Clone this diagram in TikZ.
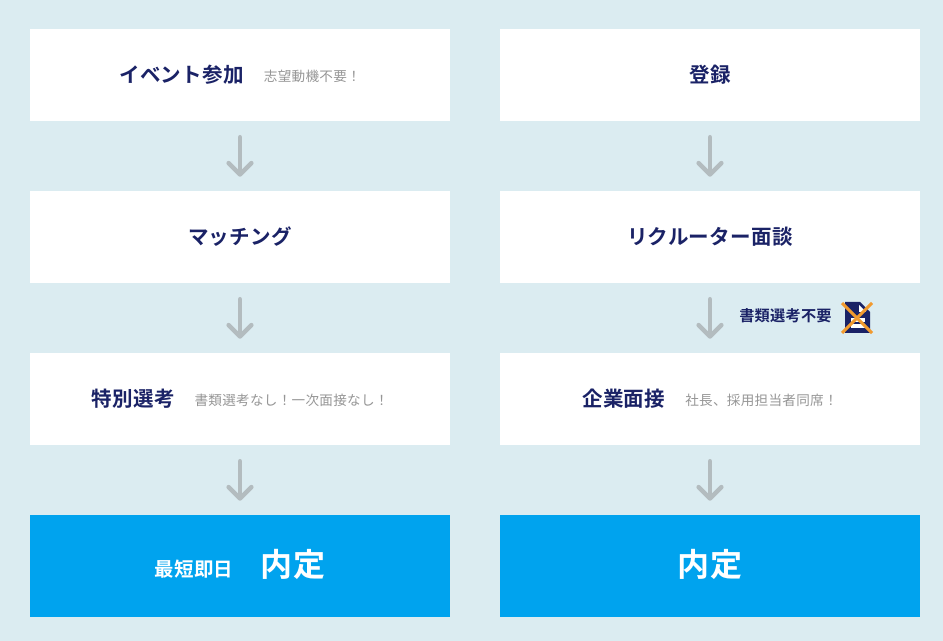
\documentclass[tikz,border=0pt]{standalone}
\usepackage{fontspec}
\usepackage{xcolor}
\usetikzlibrary{arrows.meta, positioning}
\setmainfont{Noto Sans CJK JP}
\newfontfamily\titlefont[LetterSpace=1.5]{Noto Sans CJK JP Bold}
\newfontfamily\subfont[LetterSpace=2]{Noto Sans CJK JP}
\definecolor{bgblue}{HTML}{DBECF1}
\definecolor{navy}{HTML}{1A2266}
\definecolor{skyblue}{HTML}{00A3EE}
\definecolor{arrowgray}{HTML}{B3BCBF}
\definecolor{subgray}{HTML}{969696}
\definecolor{crossorange}{HTML}{F29A2E}
\newcommand{\sub}[1]{\hspace{15pt}\raisebox{0.75pt}{\subfont\fontsize{10.2pt}{12pt}\selectfont\color{subgray}#1}}
\tikzset{
    stepbox/.style={fill=white, text=navy, minimum width=315pt, minimum height=69pt, inner sep=0pt, text height=12.7pt, text depth=2pt, font=\titlefont\fontsize{15.4pt}{18pt}\selectfont},
    goalbox/.style={fill=skyblue, text=white, minimum width=315pt, minimum height=76.5pt, inner sep=0pt, text height=19pt, text depth=3.8pt, font=\titlefont\fontsize{24pt}{28pt}\selectfont},
    flow/.style={draw=arrowgray, line width=3.4pt, line cap=round, -{Straight Barb[length=8.5pt, width=17pt, round]}, shorten <=12pt, shorten >=10.5pt},
}
\begin{document}
\begin{tikzpicture}[x=0.75pt, y=-0.75pt]
    \useasboundingbox[fill=bgblue] (0,0) rectangle (943,641);

    % 左列
    \node[stepbox] (event) at (240,75) {イベント参加\sub{志望動機不要！}};
    \node[stepbox] (match) at (240,237) {マッチング};
    \node[stepbox] (select) at (240,399) {特別選考\sub{書類選考なし！一次面接なし！}};
    \node[goalbox] (offerl) at (240,566) {{\fontsize{14.6pt}{18pt}\selectfont 最短即日}\hspace{20.5pt}内定};

    % 右列
    \node[stepbox] (entry) at (710,75) {登録};
    \node[stepbox] (talk) at (710,237) {リクルーター面談};
    \node[stepbox] (meet) at (710,399) {企業面接\sub{社長、採用担当者同席！}};
    \node[goalbox] (offerr) at (710,566) {内定};

    % 矢印
    \draw[flow] (event) -- (match);
    \draw[flow] (match) -- (select);
    \draw[flow] (select) -- (offerl);
    \draw[flow] (entry) -- (talk);
    \draw[flow] (talk) -- (meet);
    \draw[flow] (meet) -- (offerr);

    % 書類選考不要
    \node[text=navy, inner sep=0pt, font=\titlefont\fontsize{11.4pt}{13pt}\selectfont] (nodoc) at (785.5,316) {書類選考不要};
    \fill[navy] (845,302) -- (860,302) -- (870,312) -- (870,333) -- (845,333) -- cycle;
    \fill[white] (859,305) -- (859,312) -- (866,312) -- cycle;
    \fill[white] (851,318) rectangle (865,328);
    \fill[navy] (851,322) rectangle (865,324);
    \draw[crossorange, line width=2.25pt] (842,303) -- (872,333);
    \draw[crossorange, line width=2.25pt] (872,303) -- (842,333);
\end{tikzpicture}
\end{document}
